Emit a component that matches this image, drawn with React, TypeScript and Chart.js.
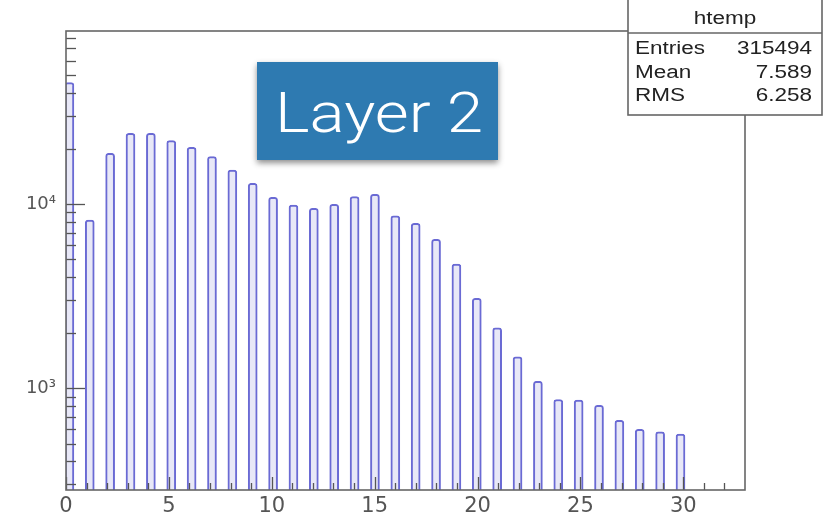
import React, { useEffect, useRef } from "react";
import { Chart, registerables } from "chart.js";

Chart.register(...registerables);

// ---- data ----
const values = [0, 1, 2, 3, 4, 5, 6, 7, 8, 9, 10, 11, 12, 13, 14, 15, 16, 17, 18, 19, 20, 21, 22, 23, 24, 25, 26, 27, 28, 29, 30];
const counts = [45600, 8190, 18860, 24200, 24200, 22080, 20300, 18080, 15300, 12960, 10870, 9880, 9475, 9960, 10960, 11290, 8640, 7850, 6430, 4720, 3073, 2128, 1479, 1091, 868, 861, 806, 670, 597, 580, 563];
const binWidth = 0.33; // ROOT auto-binning: 100 bins on [0, 33]
const xTickValues = [0, 5, 10, 15, 20, 25, 30];
const yTickValues = [1000, 10000];
const yTickLabels = ["10\u00B3", "10\u2074"];
const statsTitle = "htemp";
const statsNames = ["Entries", "Mean", "RMS"];
const statsValues = ["315494", "7.589", "6.258"];
const overlayLabel = "Layer 2";

const X_MIN = 0, X_MAX = 33, Y_MIN = 280, Y_MAX = 87000;

const rootFramePlugin = {
  id: "rootFrame",
  afterDraw(chart: any) {
    const { ctx, chartArea: a, scales } = chart;
    const x = scales.x, y = scales.y;
    ctx.save();
    const line = (x1: number, y1: number, x2: number, y2: number) => {
      ctx.beginPath(); ctx.moveTo(x1, y1); ctx.lineTo(x2, y2); ctx.stroke();
    };
    // y ticks (inside, log minors)
    ctx.strokeStyle = "#555"; ctx.lineWidth = 1.3;
    for (let d = 100; d <= 100000; d *= 10) {
      for (let m = 1; m <= 9; m++) {
        const v = d * m;
        if (v < Y_MIN || v > Y_MAX) continue;
        const py = Math.round(y.getPixelForValue(v)) + 0.5;
        line(a.left, py, a.left + (m === 1 ? 19 : 10), py);
      }
    }
    // x ticks
    for (let i = 0; i < X_MAX; i++) {
      const px = Math.round(x.getPixelForValue(i)) + 0.5;
      line(px, a.bottom, px, a.bottom - (i % 5 === 0 ? 13 : 7));
    }
    // frame
    ctx.strokeStyle = "#666"; ctx.lineWidth = 1.6;
    ctx.strokeRect(a.left, a.top, a.right - a.left, a.bottom - a.top);

    // stats box
    const bx = 628, by = -2, bw = 194, bh = 117;
    ctx.fillStyle = "#fff"; ctx.fillRect(bx, by, bw, bh);
    ctx.strokeStyle = "#666"; ctx.lineWidth = 1.6;
    ctx.strokeRect(bx, by, bw, bh);
    line(bx, 33, bx + bw, 33);
    ctx.fillStyle = "#222";
    ctx.font = '18px "Liberation Sans", Arial, sans-serif';
    ctx.textBaseline = "middle";
    const sx = 1.25;
    const txt = (s: string, px: number, py: number, align: CanvasTextAlign) => {
      ctx.save();
      ctx.translate(px, py);
      ctx.scale(sx, 1);
      ctx.textAlign = align;
      ctx.fillText(s, 0, 0);
      ctx.restore();
    };
    txt(statsTitle, bx + bw / 2, 19, "center");
    const rowsY = [49, 73, 96];
    statsNames.forEach((n, i) => {
      txt(n, bx + 7, rowsY[i], "left");
      txt(statsValues[i], bx + bw - 10, rowsY[i], "right");
    });

    // "Layer 2" label box
    ctx.save();
    ctx.shadowColor = "rgba(0,0,0,0.45)";
    ctx.shadowBlur = 6; ctx.shadowOffsetY = 3;
    ctx.fillStyle = "#2e7ab1";
    ctx.fillRect(257, 62, 241, 98);
    ctx.restore();
    ctx.fillStyle = "#fff";
    ctx.font = '300 56px Roboto, "Open Sans", sans-serif';
    ctx.textAlign = "left"; ctx.textBaseline = "alphabetic";
    const w = ctx.measureText(overlayLabel).width;
    ctx.translate(275, 132);
    ctx.scale(208 / w, 1);
    ctx.fillText(overlayLabel, 0, 0);
    ctx.restore();
  },
};

export default function App() {
  const ref = useRef<HTMLCanvasElement>(null);
  useEffect(() => {
    const data = values.map((v, i) => ({
      x: Math.floor(v / binWidth + 1e-9) * binWidth + binWidth / 2,
      y: counts[i],
    }));
    const chart = new Chart(ref.current!, {
      type: "bar",
      data: {
        datasets: [{
          data,
          backgroundColor: "#e8e8f7",
          borderColor: "#6a6ad4",
          borderWidth: 2,
          barThickness: 9,
          borderRadius: { topLeft: 3, topRight: 3, bottomLeft: 0, bottomRight: 0 },
        }],
      },
      options: {
        animation: false,
        responsive: false,
        devicePixelRatio: 1,
        layout: { padding: { left: 0, top: 31, right: 89, bottom: 0 } },
        plugins: { legend: { display: false }, tooltip: { enabled: false } },
        scales: {
          x: {
            type: "linear",
            min: X_MIN, max: X_MAX,
            offset: false,
            grid: { display: false, drawTicks: false },
            border: { display: false },
            afterBuildTicks: (s: any) => { s.ticks = xTickValues.map((v) => ({ value: v })); },
            afterFit: (s: any) => { s.height = 26; },
            ticks: {
              autoSkip: false, maxRotation: 0, padding: 4,
              color: "#555",
              font: { family: '"DejaVu Sans"', size: 21 },
              callback: (v: any) => String(v),
            },
          },
          y: {
            type: "logarithmic",
            min: Y_MIN, max: Y_MAX,
            grid: { display: false, drawTicks: false },
            border: { display: false },
            afterBuildTicks: (s: any) => { s.ticks = yTickValues.map((v) => ({ value: v })); },
            afterFit: (s: any) => { s.width = 66; },
            ticks: {
              autoSkip: false, padding: 10,
              color: "#555",
              font: { family: '"DejaVu Sans"', size: 18 },
              callback: (v: any) => yTickLabels[yTickValues.indexOf(Number(v))] ?? "",
            },
          },
        },
      },
      plugins: [rootFramePlugin],
    });
    return () => chart.destroy();
  }, []);
  return (
    <div style={{ position: "fixed", left: 0, top: 0, width: 834, height: 516, background: "#fff" }}>
      <canvas ref={ref} width={834} height={516} />
    </div>
  );
}
